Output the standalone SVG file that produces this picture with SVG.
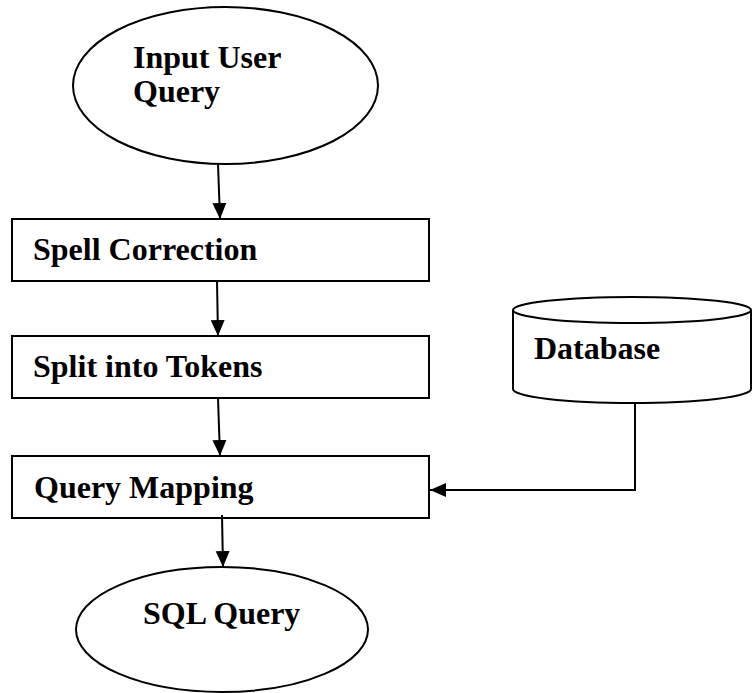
<svg xmlns="http://www.w3.org/2000/svg" width="752" height="693" viewBox="0 0 752 693">
<style>
.shape{fill:#fff;stroke:#000;stroke-width:2}
.lbl{font-family:"Liberation Serif","Times New Roman",serif;font-weight:bold;font-size:32px;fill:#000}
.conn{fill:none;stroke:#000;stroke-width:2}
</style>
<defs>
<marker id="ah" markerUnits="userSpaceOnUse" markerWidth="16" markerHeight="16" viewBox="0 0 16 14" refX="16" refY="7" orient="auto">
<path d="M0,0 L16,7 L0,14 Z" fill="#000"/>
</marker>
</defs>
<g id="input">
<ellipse class="shape" cx="225.5" cy="85.5" rx="152.5" ry="78.5"/>
<text class="lbl" x="133" y="68">Input User</text>
<text class="lbl" x="133" y="102">Query</text>
</g>
<g id="spell">
<rect class="shape" x="12" y="219" width="417" height="62"/>
<text class="lbl" x="33" y="260">Spell Correction</text>
</g>
<g id="split">
<rect class="shape" x="12" y="336" width="417" height="62"/>
<text class="lbl" x="33" y="377">Split into Tokens</text>
</g>
<g id="mapping">
<rect class="shape" x="12" y="456" width="417" height="62"/>
<text class="lbl" x="34" y="498">Query Mapping</text>
</g>
<g id="database">
<path class="shape" d="M513,310 L513,389 A119,14 0 0 0 751,389 L751,310"/>
<ellipse class="shape" cx="632" cy="310" rx="119" ry="13"/>
<text class="lbl" x="534" y="359">Database</text>
</g>
<g id="sql">
<ellipse class="shape" cx="222" cy="629.5" rx="146" ry="62.5"/>
<text class="lbl" x="143" y="624">SQL Query</text>
</g>
<g id="connectors">
<line class="conn" x1="218" y1="164" x2="220" y2="219" marker-end="url(#ah)"/>
<line class="conn" x1="217" y1="281" x2="218" y2="336" marker-end="url(#ah)"/>
<line class="conn" x1="218" y1="398" x2="220" y2="456" marker-end="url(#ah)"/>
<line class="conn" x1="222" y1="515" x2="223" y2="567" marker-end="url(#ah)"/>
<polyline class="conn" points="635,403 635,490 430,490" marker-end="url(#ah)"/>
</g>
</svg>
